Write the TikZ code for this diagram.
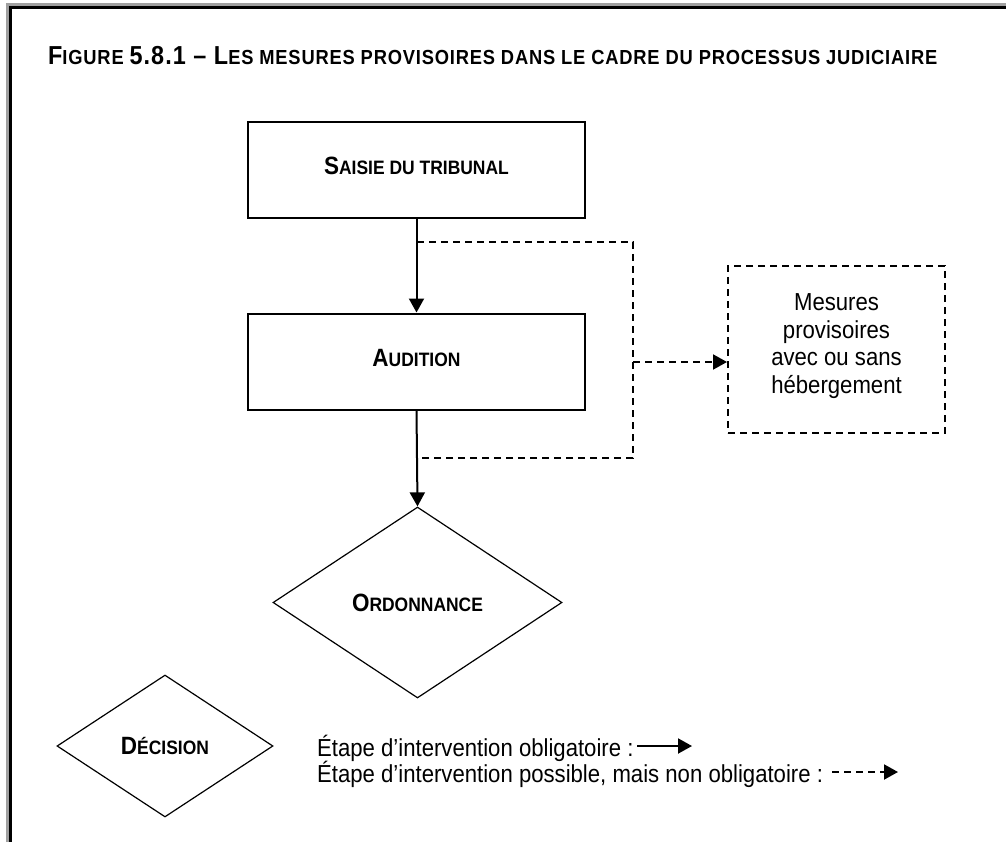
\documentclass[tikz,border=0pt]{standalone}
\usepackage{fontspec}
\newfontfamily\narrow{Liberation Sans}[FakeStretch=0.9]
\newfontfamily\titlefont{Liberation Sans}[FakeStretch=0.9,LetterSpace=4]
\usetikzlibrary{arrows.meta,shapes.geometric}

% small-caps helpers: capital letters set larger than the rest
\newcommand\ttlcap[1]{{\fontsize{26}{26}\selectfont #1}}
\newcommand\boxcap[1]{{\fontsize{25}{25}\selectfont #1}}

\definecolor{framegray}{HTML}{A0A0A0}

\tikzset{
  stepbox/.style={draw, line width=2pt, minimum width=337pt, minimum height=96pt,
    inner sep=0pt, text depth=8pt, font=\narrow\bfseries\fontsize{19.4}{19.4}\selectfont},
  decision/.style={draw, diamond, line width=1.2pt, inner sep=0pt,
    font=\narrow\bfseries\fontsize{19.4}{19.4}\selectfont},
  optbox/.style={draw, dashed, dash pattern=on 7pt off 5pt, line width=2pt,
    minimum width=217pt, minimum height=167pt, inner sep=0pt},
  optlabel/.style={align=center, inner sep=0pt, font=\narrow\fontsize{24.6}{27.5}\selectfont},
  mandatory/.style={line width=2pt, -{Triangle[width=15pt,length=14pt]}},
  optional/.style={line width=2pt, dash pattern=on 7pt off 5pt},
  optionalarrow/.style={optional, -{Triangle[width=15pt,length=14pt]}},
  legendtext/.style={anchor=base west, inner sep=0pt,
    font=\narrow\fontsize{24.6}{24.6}\selectfont},
}

\begin{document}
\begin{tikzpicture}[x=1pt,y=-1pt]
\useasboundingbox (0,0) rectangle (1006,842);
\fill[white] (0,0) rectangle (1006,842);

% shadowed frame on the top and left edges
\fill[framegray] (6,3) rectangle (1006,6);
\fill[framegray] (6,3) rectangle (9,842);
\fill[black] (9,6) rectangle (1006,9);
\fill[black] (9,6) rectangle (12,842);

% title
\node[anchor=base west, inner sep=0pt, font=\titlefont\bfseries\fontsize{20.35}{20.35}\selectfont]
  (title) at (48,65)
  {\ttlcap{F}IGURE \ttlcap{5.8.1 – L}ES MESURES PROVISOIRES DANS LE CADRE DU PROCESSUS JUDICIAIRE};

% main steps
\node[stepbox] (saisie) at (416.5,170) {\boxcap{S}AISIE DU TRIBUNAL};
\node[stepbox] (audition) at (416.5,361.5) {\boxcap{A}UDITION};
\node[decision, minimum width=289pt, minimum height=191pt] (ordonnance) at (417.5,602.5)
  {\boxcap{O}RDONNANCE};
\node[optbox] (mesures) at (836.5,349.5) {};
\node[optlabel] (mesurestext) at (836.5,346) {Mesures\\provisoires\\avec ou sans\\hébergement};

% mandatory flow
\draw[mandatory] (saisie.south) -- (audition.north);
\draw[mandatory] (audition.south) -- (ordonnance.north);

% optional branch around the hearing
\coordinate (brtop) at (417,242);
\coordinate (brtopr) at (633,242);
\coordinate (brbotr) at (633,458);
\coordinate (brbot) at (417,458);
\coordinate (branch) at (633,362);
\draw[optional] (brtop) -- (brtopr) -- (brbotr) -- (brbot);
\draw[optionalarrow] (branch) -- (branch -| mesures.west);

% legend
\node[decision, minimum width=216pt, minimum height=142pt] (decision) at (165,746)
  {\boxcap{D}ÉCISION};
\node[legendtext] (leg1) at (317,756) {Étape d’intervention obligatoire :};
\node[legendtext] (leg2) at (317,782) {Étape d’intervention possible, mais non obligatoire :};
\coordinate (l1a) at (637,746);
\coordinate (l1b) at (692,746);
\coordinate (l2a) at (832,772);
\coordinate (l2b) at (898,772);
\draw[mandatory] (l1a) -- (l1b);
\draw[optionalarrow] (l2a) -- (l2b);
\end{tikzpicture}
\end{document}
